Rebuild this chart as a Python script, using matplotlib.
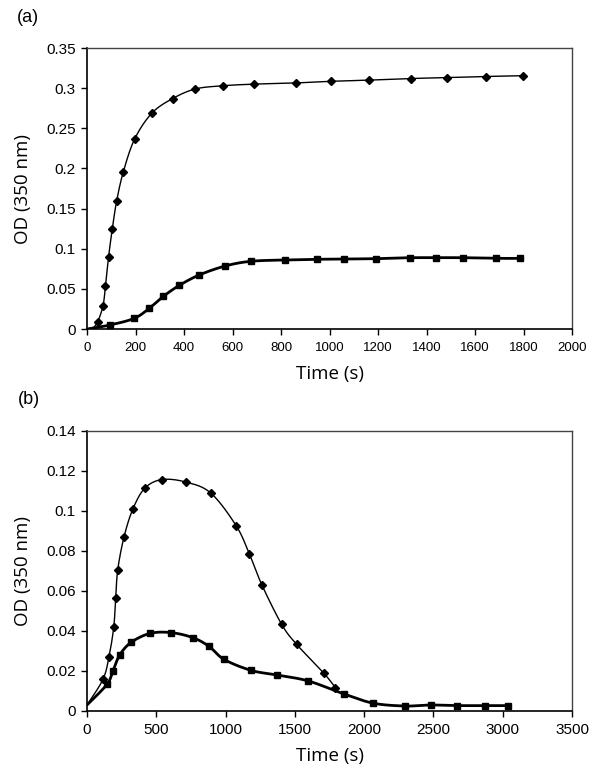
import numpy as np
import matplotlib
matplotlib.use("Agg")
import matplotlib.pyplot as plt

plt.rcParams['font.family'] = ['Liberation Sans', 'DejaVu Sans']

# ---- Panel (a) data ----
a_dia_t = [22, 44, 66, 76, 89, 104, 122, 150, 197, 268, 353, 447, 562, 689, 862, 1005, 1164, 1336, 1485, 1644, 1797]
a_dia_od = [0.0, 0.009, 0.029, 0.053, 0.090, 0.124, 0.159, 0.196, 0.237, 0.269, 0.287, 0.299, 0.303, 0.305, 0.3065, 0.3085, 0.310, 0.312, 0.313, 0.3145, 0.3155]
a_sq_t = [0, 95, 195, 257, 315, 381, 463, 570, 675, 816, 948, 1060, 1193, 1331, 1439, 1552, 1685, 1784]
a_sq_od = [0.0, 0.005, 0.0133, 0.0258, 0.0407, 0.0544, 0.0673, 0.0785, 0.0843, 0.086, 0.0868, 0.0872, 0.0876, 0.0888, 0.0888, 0.0888, 0.088, 0.088]

# ---- Panel (b) data ----
b_dia_t = [0, 115, 159, 193, 207, 222, 267, 330, 416, 539, 712, 893, 1076, 1172, 1261, 1405, 1513, 1708, 1792]
b_dia_od = [0.003, 0.0158, 0.0272, 0.042, 0.0563, 0.0707, 0.087, 0.1008, 0.1113, 0.1157, 0.1145, 0.109, 0.0927, 0.0785, 0.0632, 0.0433, 0.0333, 0.019, 0.0117]
b_sq_t = [0, 144, 188, 236, 318, 455, 606, 763, 881, 989, 1184, 1371, 1598, 1855, 2066, 2293, 2483, 2673, 2872, 3041]
b_sq_od = [0.003, 0.0133, 0.0202, 0.028, 0.0343, 0.0388, 0.0392, 0.0367, 0.0323, 0.0258, 0.0203, 0.018, 0.015, 0.0085, 0.0039, 0.0025, 0.003, 0.0027, 0.0027, 0.0027]

a_xticks = list(range(0, 2001, 200))
a_yticks = [0, 0.05, 0.1, 0.15, 0.2, 0.25, 0.3, 0.35]
a_ylabels = ["0", "0.05", "0.1", "0.15", "0.2", "0.25", "0.3", "0.35"]
b_xticks = list(range(0, 3501, 500))
b_yticks = [0, 0.02, 0.04, 0.06, 0.08, 0.1, 0.12, 0.14]
b_ylabels = ["0", "0.02", "0.04", "0.06", "0.08", "0.1", "0.12", "0.14"]

W, H = 600, 780
fig = plt.figure(figsize=(W / 100, H / 100), dpi=100)


def fig_rect(l, t, r, b):
    return [l / W, 1 - b / H, (r - l) / W, (b - t) / H]


def smooth(ax, x, y, n=24):
    pts = ax.transData.transform(np.column_stack([x, y]))
    P = np.vstack([pts[0], pts, pts[-1]])
    segs = []
    tt = np.linspace(0, 1, n)[:, None]
    for i in range(1, len(P) - 2):
        p0, p1, p2, p3 = P[i - 1], P[i], P[i + 1], P[i + 2]
        c1 = p1 + (p2 - p0) / 6
        c2 = p2 - (p3 - p1) / 6
        seg = (1 - tt) ** 3 * p1 + 3 * (1 - tt) ** 2 * tt * c1 + 3 * (1 - tt) * tt ** 2 * c2 + tt ** 3 * p2
        segs.append(seg)
    out = ax.transData.inverted().transform(np.vstack(segs))
    return out[:, 0], out[:, 1]


def style_axes(ax, xlim, ylim, xticks, yticks, ylabels, xtick_size, hpx):
    ax.set_xlim(*xlim)
    ax.set_ylim(*ylim)
    ax.set_xticks(xticks)
    ax.set_xticklabels([str(v) for v in xticks])
    ax.set_yticks(yticks)
    ax.set_yticklabels(ylabels)
    ax.tick_params(direction='out', length=4, width=1, color='black')
    ax.tick_params(axis='y', labelsize=11, pad=4)
    ax.tick_params(axis='x', labelsize=xtick_size, pad=5)
    for s in ['left', 'bottom']:
        ax.spines[s].set_color('black')
        ax.spines[s].set_linewidth(1.2)
    for s in ['top', 'right']:
        ax.spines[s].set_color('#444444')
        ax.spines[s].set_linewidth(1.0)
    ax.set_ylabel("OD (350 nm)", fontsize=13.5, family=['Open Sans', 'DejaVu Sans'])
    ax.set_xlabel("Time (s)", fontsize=13.5, family=['Open Sans', 'DejaVu Sans'])
    ax.yaxis.set_label_coords((32 - 87) / 485, 0.5)
    ax.xaxis.set_label_coords(0.5, -36 / hpx)


def draw_series(ax, t, od, marker, ms, lw):
    sx, sy = smooth(ax, t, od)
    ax.plot(sx, sy, color='black', lw=lw, solid_capstyle='round', zorder=3)
    ax.plot(t[1:], od[1:], linestyle='none', marker=marker, ms=ms, color='black', zorder=4, clip_on=False)


# Panel (a)
ax1 = fig.add_axes(fig_rect(87, 48, 572, 329))
style_axes(ax1, (0, 2000), (0, 0.35), a_xticks, a_yticks, a_ylabels, 9.5, 281)
draw_series(ax1, a_dia_t, a_dia_od, 'D', 4.5, 1.0)
draw_series(ax1, a_sq_t, a_sq_od, 's', 3.8, 2.0)
fig.text(28 / W, 1 - 18 / H, "(a)", fontsize=13, ha='center', va='center')

# Panel (b)
ax2 = fig.add_axes(fig_rect(87, 431, 572, 711))
style_axes(ax2, (0, 3500), (0, 0.14), b_xticks, b_yticks, b_ylabels, 11, 280)
draw_series(ax2, b_dia_t, b_dia_od, 'D', 4.5, 1.0)
draw_series(ax2, b_sq_t, b_sq_od, 's', 3.8, 2.0)
fig.text(29 / W, 1 - 400 / H, "(b)", fontsize=13, ha='center', va='center')

fig.savefig("out.png", dpi=100)
